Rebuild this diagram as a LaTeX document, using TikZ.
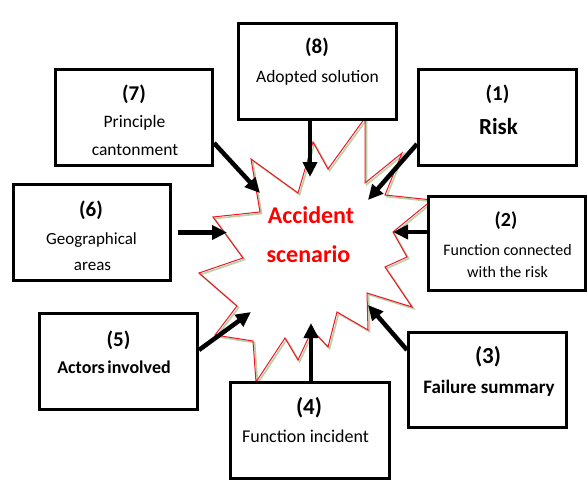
\documentclass[tikz,border=0pt]{standalone}
\usepackage{fontspec}
\setmainfont{Carlito}
\usetikzlibrary{arrows.meta}
\definecolor{shadowgreen}{RGB}{185,210,165}
\definecolor{starred}{RGB}{240,20,40}
\begin{document}
\begin{tikzpicture}[x=1pt,y=-1pt,
  box/.style={draw=black, line width=3pt, fill=white, inner sep=0pt},
  lbl/.style={anchor=base, inner sep=0pt, text=black},
  arr/.style={line width=4.5pt, -{Triangle[length=15pt,width=14pt]}},
  starline/.style={draw=starred, line width=1pt, line join=miter},
  shadowline/.style={draw=shadowgreen, line width=1.6pt, line join=miter},
  num/.style={lbl, font=\bfseries\fontsize{21}{24}\selectfont},
]
\useasboundingbox (0,0) rectangle (588,492);
\fill[white] (0,0) rectangle (588,492);
% star shadow
\begin{scope}[shift={(1.6,1.6)}]
\draw[shadowline] (251,159) -- (298,193) -- (313,142) -- (328,169) -- (365,118) -- (365,183) -- (402,153) -- (385,195) -- (432,200) -- (393,232) -- (407,257) -- (385,267) -- (412,307) -- (367,293) -- (368,330) -- (337,312) -- (328,347) -- (312,330) -- (298,360) -- (285,338) -- (256,382) -- (253,341) -- (215,335) -- (237,306) -- (199,273) -- (243,258) -- (213,217) -- (260,212) -- cycle;
\end{scope}
% star
\draw[starline] (251,159) -- (298,193) -- (313,142) -- (328,169) -- (365,118) -- (365,183) -- (402,153) -- (385,195) -- (432,200) -- (393,232) -- (407,257) -- (385,267) -- (412,307) -- (367,293) -- (368,330) -- (337,312) -- (328,347) -- (312,330) -- (298,360) -- (285,338) -- (256,382) -- (253,341) -- (215,335) -- (237,306) -- (199,273) -- (243,258) -- (213,217) -- (260,212) -- cycle;
\node[anchor=base, inner sep=0pt, text=red, font=\bfseries\fontsize{24}{28}\selectfont] (acc1) at (311,223) {Accident};
\node[anchor=base, inner sep=0pt, text=red, font=\bfseries\fontsize{24}{28}\selectfont] (acc2) at (308.5,262) {scenario};
% boxes
\node[box, minimum width=158pt, minimum height=96pt] (b8) at (317.5,71.5) {};
\node[box, minimum width=157pt, minimum height=96pt] (b7) at (134,117.5) {};
\node[box, minimum width=158pt, minimum height=96pt] (b1) at (497.5,117.5) {};
\node[box, minimum width=157pt, minimum height=96pt] (b6) at (92,232.5) {};
\node[box, minimum width=157pt, minimum height=94pt] (b2) at (507,243.5) {};
\node[box, minimum width=158pt, minimum height=95pt] (b3) at (487.5,380) {};
\node[box, minimum width=159pt, minimum height=96pt] (b4) at (310,430.5) {};
\node[box, minimum width=158pt, minimum height=96pt] (b5) at (118.5,361.5) {};
% texts
\node[num] (n8) at (317,54) {(8)};
\node[lbl, font=\fontsize{17.5}{20}\selectfont] (l8) at (317.5,83) {Adopted solution};
\node[num] (n7) at (134,100) {(7)};
\node[lbl, font=\fontsize{17.5}{20}\selectfont] (l7a) at (134.5,128) {Principle};
\node[lbl, font=\fontsize{17.5}{20}\selectfont] (l7b) at (135,155) {cantonment};
\node[num] (n1) at (497.5,100) {(1)};
\node[lbl, font=\bfseries\fontsize{23}{26}\selectfont] (l1) at (498.5,134) {Risk};
\node[num] (n6) at (91,216) {(6)};
\node[lbl, font=\fontsize{17}{20}\selectfont] (l6a) at (91.5,244) {Geographical};
\node[lbl, font=\fontsize{17}{20}\selectfont] (l6b) at (92.5,270) {areas};
\node[num, font=\bfseries\fontsize{20}{24}\selectfont] (n2) at (506,226) {(2)};
\node[lbl, font=\fontsize{16}{19}\selectfont] (l2a) at (507.5,255) {Function connected};
\node[lbl, font=\fontsize{16}{19}\selectfont] (l2b) at (507.5,277) {with the risk};
\node[num, font=\bfseries\fontsize{23}{26}\selectfont] (n3) at (488,363) {(3)};
\node[lbl, font=\bfseries\fontsize{19}{22}\selectfont] (l3) at (489,393) {Failure summary};
\node[num, font=\bfseries\fontsize{23}{26}\selectfont] (n4) at (309,414) {(4)};
\node[lbl, font=\fontsize{18}{21}\selectfont] (l4) at (305.5,442) {Function incident};
\node[num] (n5) at (118.5,346) {(5)};
\node[lbl, font=\bfseries\fontsize{18}{21}\selectfont] (l5) at (114,373) {Actors\hspace{2.5pt}involved};
% arrow tips
\coordinate (t8) at (310,177);
\coordinate (t7) at (260,193);
\coordinate (t1) at (368,200);
\coordinate (t2) at (393,232);
\coordinate (t3) at (368,305);
\coordinate (t4) at (311,323);
\coordinate (t5) at (251,312);
\coordinate (t6) at (227,232.5);
% arrows
\draw[arr] (b8.south -| t8) -- (t8);
\draw[arr] ([yshift=24pt]b7.south east) -- (t7);
\draw[arr] ([yshift=23pt]b1.south west) -- (t1);
\draw[arr] (b2.west |- t2) -- (t2);
\draw[arr] ([yshift=-19pt]b3.north west) -- (t3);
\draw[arr] (b4.north -| t4) -- (t4);
\draw[arr] ([yshift=-38pt]b5.north east) -- (t5);
\draw[arr] ([xshift=6pt]b6.east) -- (t6);
\end{tikzpicture}
\end{document}
